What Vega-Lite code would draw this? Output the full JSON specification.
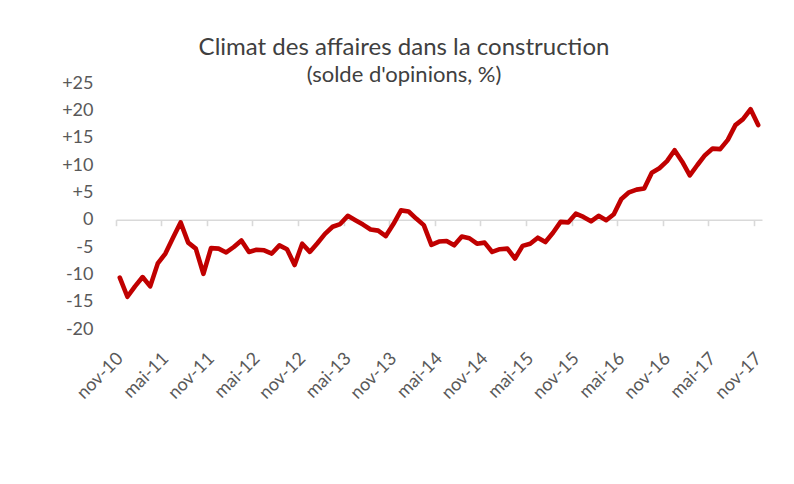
{
  "$schema": "https://vega.github.io/schema/vega-lite/v6.json",
  "autosize": {"type": "none"},
  "padding": {"left": 116, "top": 83, "right": 32, "bottom": 155},
  "width": 646,
  "height": 246,
  "background": "white",
  "config": {
    "font": "Lato",
    "view": {"stroke": null}
  },
  "title": {
    "text": "Climat des affaires dans la construction",
    "subtitle": "(solde d'opinions, %)",
    "anchor": "middle",
    "frame": "group",
    "dx": -35,
    "offset": -12,
    "font": "Lato",
    "fontSize": 24,
    "fontWeight": "normal",
    "color": "#404040",
    "subtitleFont": "Lato",
    "subtitleFontSize": 22,
    "subtitleColor": "#404040",
    "subtitlePadding": 5
  },
  "data": {
    "values": [
      {"mois": "nov.-10", "solde": -10.6},
      {"mois": "déc.-10", "solde": -14.1},
      {"mois": "janv.-11", "solde": -12.2},
      {"mois": "févr.-11", "solde": -10.5},
      {"mois": "mars-11", "solde": -12.2},
      {"mois": "avr.-11", "solde": -8.0},
      {"mois": "mai-11", "solde": -6.2},
      {"mois": "juin-11", "solde": -3.3},
      {"mois": "juil.-11", "solde": -0.5},
      {"mois": "août-11", "solde": -4.2},
      {"mois": "sept.-11", "solde": -5.3},
      {"mois": "oct.-11", "solde": -9.9},
      {"mois": "nov.-11", "solde": -5.2},
      {"mois": "déc.-11", "solde": -5.3},
      {"mois": "janv.-12", "solde": -6.0},
      {"mois": "févr.-12", "solde": -5.0},
      {"mois": "mars-12", "solde": -3.8},
      {"mois": "avr.-12", "solde": -5.9},
      {"mois": "mai-12", "solde": -5.5},
      {"mois": "juin-12", "solde": -5.6},
      {"mois": "juil.-12", "solde": -6.2},
      {"mois": "août-12", "solde": -4.7},
      {"mois": "sept.-12", "solde": -5.4},
      {"mois": "oct.-12", "solde": -8.3},
      {"mois": "nov.-12", "solde": -4.4},
      {"mois": "déc.-12", "solde": -5.9},
      {"mois": "janv.-13", "solde": -4.3},
      {"mois": "févr.-13", "solde": -2.6},
      {"mois": "mars-13", "solde": -1.3},
      {"mois": "avr.-13", "solde": -0.8},
      {"mois": "mai-13", "solde": 0.7},
      {"mois": "juin-13", "solde": -0.1},
      {"mois": "juil.-13", "solde": -0.9},
      {"mois": "août-13", "solde": -1.8},
      {"mois": "sept.-13", "solde": -2.0},
      {"mois": "oct.-13", "solde": -3.0},
      {"mois": "nov.-13", "solde": -0.8},
      {"mois": "déc.-13", "solde": 1.7},
      {"mois": "janv.-14", "solde": 1.5},
      {"mois": "févr.-14", "solde": 0.2},
      {"mois": "mars-14", "solde": -1.0},
      {"mois": "avr.-14", "solde": -4.6},
      {"mois": "mai-14", "solde": -4.0},
      {"mois": "juin-14", "solde": -3.9},
      {"mois": "juil.-14", "solde": -4.7},
      {"mois": "août-14", "solde": -3.1},
      {"mois": "sept.-14", "solde": -3.4},
      {"mois": "oct.-14", "solde": -4.4},
      {"mois": "nov.-14", "solde": -4.2},
      {"mois": "déc.-14", "solde": -5.9},
      {"mois": "janv.-15", "solde": -5.4},
      {"mois": "févr.-15", "solde": -5.3},
      {"mois": "mars-15", "solde": -7.1},
      {"mois": "avr.-15", "solde": -4.8},
      {"mois": "mai-15", "solde": -4.4},
      {"mois": "juin-15", "solde": -3.3},
      {"mois": "juil.-15", "solde": -4.1},
      {"mois": "août-15", "solde": -2.4},
      {"mois": "sept.-15", "solde": -0.4},
      {"mois": "oct.-15", "solde": -0.5},
      {"mois": "nov.-15", "solde": 1.1},
      {"mois": "déc.-15", "solde": 0.5},
      {"mois": "janv.-16", "solde": -0.3},
      {"mois": "févr.-16", "solde": 0.7},
      {"mois": "mars-16", "solde": -0.1},
      {"mois": "avr.-16", "solde": 1.0},
      {"mois": "mai-16", "solde": 3.8},
      {"mois": "juin-16", "solde": 5.0},
      {"mois": "juil.-16", "solde": 5.5},
      {"mois": "août-16", "solde": 5.7},
      {"mois": "sept.-16", "solde": 8.6},
      {"mois": "oct.-16", "solde": 9.4},
      {"mois": "nov.-16", "solde": 10.7},
      {"mois": "déc.-16", "solde": 12.7},
      {"mois": "janv.-17", "solde": 10.6},
      {"mois": "févr.-17", "solde": 8.1},
      {"mois": "mars-17", "solde": 10.0},
      {"mois": "avr.-17", "solde": 11.8},
      {"mois": "mai-17", "solde": 13.0},
      {"mois": "juin-17", "solde": 12.9},
      {"mois": "juil.-17", "solde": 14.6},
      {"mois": "août-17", "solde": 17.3},
      {"mois": "sept.-17", "solde": 18.4},
      {"mois": "oct.-17", "solde": 20.2},
      {"mois": "nov.-17", "solde": 17.3}
    ]
  },
  "mark": {
    "type": "line",
    "color": "#C00000",
    "strokeWidth": 4.6,
    "strokeJoin": "round",
    "strokeCap": "round"
  },
  "encoding": {
    "x": {
      "field": "mois",
      "type": "ordinal",
      "sort": null,
      "bandPosition": 0.5,
      "scale": {"type": "band", "paddingInner": 0, "paddingOuter": 0},
      "axis": {
        "title": null,
        "values": ["nov.-10", "mai-11", "nov.-11", "mai-12", "nov.-12", "mai-13", "nov.-13", "mai-14", "nov.-14", "mai-15", "nov.-15", "mai-16", "nov.-16", "mai-17", "nov.-17"],
        "labelExpr": "replace(datum.value, '.', '')",
        "bandPosition": 0,
        "offset": -109.3,
        "domainColor": "#D9D9D9",
        "domainWidth": 1.6,
        "tickColor": "#D9D9D9",
        "tickWidth": 1.6,
        "tickSize": 6,
        "labelAngle": -45,
        "labelAlign": "right",
        "labelBaseline": "middle",
        "labelPadding": 130,
        "labelOffset": 0.8,
        "labelFont": "Lato",
        "labelFontSize": 18,
        "labelColor": "#595959",
        "labelOverlap": false,
        "labelFlush": false,
        "grid": false
      }
    },
    "y": {
      "field": "solde",
      "type": "quantitative",
      "scale": {"domain": [-20, 25], "nice": false, "zero": false},
      "axis": {
        "title": null,
        "values": [-20, -15, -10, -5, 0, 5, 10, 15, 20, 25],
        "labelExpr": "datum.value > 0 ? '+' + datum.value : '' + datum.value",
        "domain": false,
        "ticks": false,
        "tickSize": 0,
        "grid": false,
        "labelPadding": 23,
        "labelFont": "Lato",
        "labelFontSize": 18,
        "labelColor": "#595959",
        "labelOverlap": false,
        "labelFlush": false
      }
    }
  }
}
